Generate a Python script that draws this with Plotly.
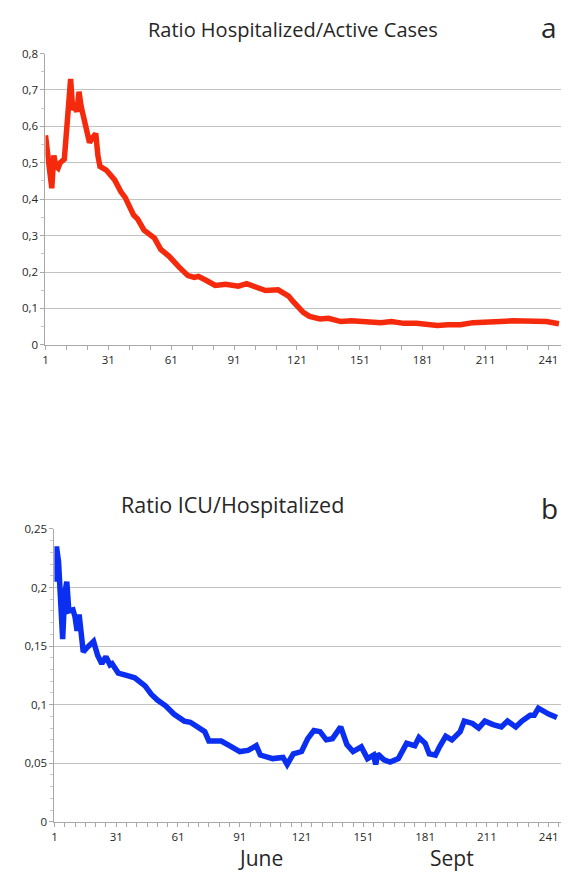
import plotly.graph_objects as go

# ---- data ----
hosp_days = [1, 2, 4, 5, 6, 7, 8, 10, 11, 12, 13, 14, 15, 16, 17, 18, 20, 22, 23, 25, 26, 27, 30, 34, 37, 39,
             43, 45, 48, 51, 53, 56, 60, 65, 69, 72, 74, 78, 82, 87, 93, 97, 101, 106, 112, 115, 117, 119, 121,
             124, 127, 132, 136, 142, 147, 155, 161, 166, 172, 178, 183, 188, 193, 199, 205, 211, 218, 224,
             230, 237, 240, 246]
hosp_ratio = [0.575, 0.52, 0.43, 0.52, 0.49, 0.485, 0.50, 0.51, 0.58, 0.66, 0.73, 0.645, 0.655, 0.64, 0.695,
              0.655, 0.60, 0.555, 0.565, 0.58, 0.52, 0.49, 0.48, 0.453, 0.42, 0.405, 0.357, 0.345, 0.315,
              0.303, 0.293, 0.262, 0.243, 0.212, 0.19, 0.185, 0.188, 0.176, 0.163, 0.166, 0.161, 0.168, 0.16,
              0.149, 0.151, 0.143, 0.134, 0.12, 0.106, 0.089, 0.078, 0.071, 0.073, 0.064, 0.066, 0.062, 0.061,
              0.064, 0.059, 0.059, 0.055, 0.053, 0.055, 0.055, 0.061, 0.064, 0.064, 0.066, 0.064, 0.065,
              0.064, 0.058]

icu_days = [1, 2, 3, 4, 5, 6, 7, 8, 10, 11, 12, 13, 14, 15, 17, 20, 22, 24, 26, 28, 29, 32, 36, 40, 45, 48,
            51, 55, 59, 64, 67, 71, 74, 76, 82, 86, 91, 95, 99, 101, 107, 112, 114, 117, 121, 124, 127, 130,
            133, 136, 140, 143, 146, 150, 153, 156, 157, 158, 161, 164, 168, 172, 176, 178, 181, 183, 186,
            188, 191, 194, 198, 200, 204, 207, 210, 214, 218, 221, 225, 228, 232, 234, 236, 241, 245]
icu_ratio = [0.205, 0.235, 0.222, 0.19, 0.156, 0.195, 0.205, 0.18, 0.181, 0.175, 0.163, 0.177, 0.16, 0.145,
             0.149, 0.154, 0.142, 0.135, 0.141, 0.134, 0.135, 0.127, 0.125, 0.123, 0.116, 0.109, 0.104,
             0.099, 0.092, 0.086, 0.085, 0.08, 0.077, 0.069, 0.069, 0.065, 0.06, 0.061, 0.065, 0.057, 0.054,
             0.055, 0.049, 0.058, 0.06, 0.071, 0.078, 0.077, 0.07, 0.071, 0.081, 0.066, 0.06, 0.064, 0.054,
             0.057, 0.049, 0.058, 0.053, 0.051, 0.054, 0.067, 0.065, 0.072, 0.067, 0.058, 0.057, 0.064,
             0.073, 0.07, 0.077, 0.086, 0.084, 0.08, 0.086, 0.083, 0.081, 0.086, 0.081, 0.086, 0.091, 0.091,
             0.097, 0.092, 0.089]

x_ticks = [1, 31, 61, 91, 121, 151, 181, 211, 241]
x_ticktext = [str(v) for v in x_ticks]
y1_ticks = [0, 0.1, 0.2, 0.3, 0.4, 0.5, 0.6, 0.7, 0.8]
y1_ticktext = ["0", "0,1", "0,2", "0,3", "0,4", "0,5", "0,6", "0,7", "0,8"]
y2_ticks = [0, 0.05, 0.1, 0.15, 0.2, 0.25]
y2_ticktext = ["0", "0,05", "0,1", "0,15", "0,2", "0,25"]

title_a = "Ratio Hospitalized/Active Cases"
title_b = "Ratio ICU/Hospitalized"
month_labels = ["June", "Sept"]
month_days = [101, 194]

FONT = "Open Sans"
GRID = "#c2c2c2"
AXIS = "#a8a8a8"
TXT = "#262626"
W, H = 571, 878

fig = go.Figure()
fig.add_trace(go.Scatter(x=hosp_days, y=hosp_ratio, mode="lines",
                         line=dict(color="#f52a0c", width=5.5), xaxis="x", yaxis="y", showlegend=False))
fig.add_trace(go.Scatter(x=icu_days, y=icu_ratio, mode="lines",
                         line=dict(color="#0b2ff0", width=5.5), xaxis="x2", yaxis="y2", showlegend=False))

def xax(domain, anchor, mdt):
    return dict(domain=domain, anchor=anchor, range=[1, 247], tickmode="array", tickvals=x_ticks,
                ticktext=x_ticktext, showgrid=False, zeroline=False, showline=True, linecolor=AXIS,
                linewidth=1, ticks="outside", ticklen=4, tickcolor=AXIS,
                minor=dict(dtick=mdt, tick0=1, ticks="outside", ticklen=4, tickcolor=AXIS, showgrid=False),
                tickfont=dict(family=FONT, size=11.5, color=TXT))

def yax(domain, anchor, rng, tv, tt, mdt):
    return dict(domain=domain, anchor=anchor, range=rng, tickmode="array", tickvals=tv, ticktext=tt,
                showgrid=True, gridcolor=GRID, gridwidth=1.2, zeroline=False, showline=True, linecolor=AXIS,
                linewidth=1, ticks="outside", ticklen=4, tickcolor=AXIS,
                minor=dict(dtick=mdt, tick0=0, ticks="outside", ticklen=3, tickcolor="#c8c8c8", showgrid=False),
                tickfont=dict(family=FONT, size=11.5, color=TXT))

fig.update_layout(
    width=W, height=H, margin=dict(l=0, r=0, t=0, b=0),
    paper_bgcolor="white", plot_bgcolor="white",
    xaxis=xax([42.7 / W, 561 / W], "y", 10),
    yaxis=yax([1 - 342.7 / H, 1 - 46.3 / H], "x", [0, 0.8], y1_ticks, y1_ticktext, 0.05),
    xaxis2=xax([51.7 / W, 561 / W], "y2", 5),
    yaxis2=yax([1 - 828 / H, 1 - 530 / H], "x2", [0, 0.25], y2_ticks, y2_ticktext, 0.01),
)

ann = [
    dict(text=title_a, x=292 / W, y=1 - 22 / H, size=20),
    dict(text="a", x=549 / W, y=1 - 19 / H, size=28),
    dict(text=title_b, x=231 / W, y=1 - 505 / H, size=21.5),
    dict(text="b", x=549 / W, y=1 - 509 / H, size=28),
]
for a in ann:
    fig.add_annotation(text=a["text"], x=a["x"], y=a["y"], xref="paper", yref="paper",
                       xanchor="center", yanchor="middle", showarrow=False,
                       font=dict(family=FONT, size=a["size"], color=TXT))
for lab, d in zip(month_labels, month_days):
    fig.add_annotation(text=lab, x=d, xref="x2", y=1 - 865 / H, yref="paper",
                       xanchor="center", yanchor="middle", showarrow=False,
                       font=dict(family=FONT, size=21, color=TXT))

fig.write_html("out.html", config={"displayModeBar": False},
               post_script="document.body.style.margin='0';document.body.style.overflow='hidden';")
